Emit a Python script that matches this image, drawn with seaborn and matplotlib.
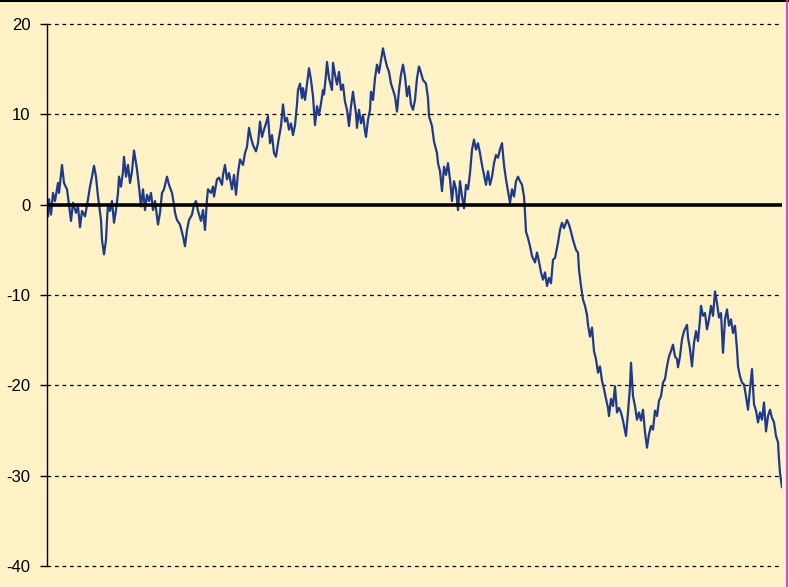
import matplotlib
matplotlib.use("Agg")
import matplotlib.pyplot as plt
from matplotlib.lines import Line2D
import seaborn as sns
import pandas as pd

# step index (time) and value of the random walk
steps = [1, 2, 4, 6, 8, 11, 12, 15, 17, 20, 22, 24, 26, 29, 31, 33, 35, 38, 41, 43,
         45, 47, 49, 51, 52, 54, 55, 57, 59, 60, 61, 63, 65, 67, 69, 71, 72, 74, 76, 77,
         79, 81, 83, 85, 87, 90, 92, 94, 96, 98, 100, 102, 104, 106, 108, 111, 113, 115, 117, 120,
         122, 125, 127, 128, 130, 133, 136, 138, 140, 142, 145, 147, 149, 151, 154, 156, 158, 160, 161, 164,
         166, 167, 170, 172, 175, 176, 178, 180, 182, 185, 187, 189, 191, 193, 196, 198, 200, 202, 204, 206,
         209, 211, 213, 215, 217, 219, 221, 223, 225, 227, 229, 231, 234, 236, 238, 240, 242, 244, 246, 248,
         250, 251, 253, 255, 256, 258, 260, 262, 264, 266, 268, 270, 272, 274, 276, 277, 279, 280, 282, 285,
         286, 288, 290, 292, 294, 296, 298, 300, 302, 304, 306, 307, 309, 310, 312, 314, 316, 318, 319, 321,
         323, 324, 326, 328, 330, 332, 334, 336, 338, 340, 342, 344, 346, 348, 350, 352, 354, 356, 358, 360,
         362, 364, 366, 368, 370, 372, 374, 376, 379, 381, 382, 385, 387, 390, 391, 393, 395, 397, 399, 401,
         403, 405, 407, 409, 411, 413, 415, 417, 419, 421, 423, 425, 427, 429, 431, 433, 435, 437, 439, 441,
         443, 445, 447, 449, 451, 453, 455, 457, 459, 461, 463, 465, 467, 469, 471, 473, 475, 477, 478, 479,
         481, 483, 485, 488, 490, 492, 494, 496, 498, 500, 502, 504, 506, 508, 511, 513, 515, 517, 520, 522,
         524, 526, 529, 531, 532, 534, 536, 538, 540, 541, 543, 545, 547, 549, 551, 553, 555, 557, 559, 561,
         562, 564, 566, 568, 570, 572, 574, 576, 579, 581, 583, 584, 586, 588, 590, 592, 594, 596, 598, 600,
         602, 604, 606, 608, 610, 612, 614, 616, 618, 620, 622, 624, 626, 628, 630, 631, 633, 635, 637, 640,
         641, 643, 645, 647, 649, 651, 653, 654, 656, 658, 660, 662, 664, 666, 668, 670, 672, 674, 676, 678,
         680, 682, 684, 686, 688, 690, 691, 693, 695, 697, 699, 701, 703, 705, 707, 709, 711, 713, 715, 717,
         719, 721, 723, 725, 727, 729, 731, 732, 733, 735]

values = [-1.3, 0.6, -1.1, 1.3, 0.4, 2.4, 1.3, 4.4, 2.4, 1.7, 0.0, -1.8, 0.2, -0.9, -0.2, -2.5, -0.7, -1.3, 0.6, 2.0,
          3.1, 4.3, 3.1, 0.9, 0.0, -1.7, -3.9, -5.5, -3.9, -1.7, 0.0, -0.7, 0.4, -2.0, -0.6, 1.3, 3.1, 2.0, 3.7, 5.3,
          3.1, 4.4, 2.4, 3.7, 6.0, 3.9, 2.0, -0.2, 1.7, -0.6, 1.1, 0.4, 1.3, -0.6, 0.4, -2.2, -0.9, 1.3, 1.7, 3.1,
          2.2, 1.3, 0.0, -0.9, -1.7, -2.2, -3.5, -4.6, -2.8, -1.7, -1.1, 0.0, 0.4, -0.7, -1.8, -0.6, -2.8, 0.6, 1.7, 1.3,
          2.0, 0.9, 2.8, 3.0, 2.2, 3.3, 4.4, 2.8, 3.5, 1.7, 3.3, 1.1, 3.5, 5.0, 4.4, 5.7, 6.4, 8.5, 7.4, 6.6,
          5.9, 6.8, 9.2, 7.5, 8.3, 9.0, 9.8, 6.8, 7.7, 5.7, 5.3, 6.8, 8.7, 11.1, 9.2, 9.6, 8.3, 9.0, 7.7, 8.8,
          11.1, 12.7, 13.4, 11.8, 12.9, 11.6, 13.4, 15.1, 13.8, 12.0, 8.8, 10.9, 9.9, 11.2, 12.7, 12.2, 14.4, 15.8, 14.0, 12.7,
          15.7, 14.4, 13.3, 14.7, 12.7, 13.3, 11.4, 10.5, 8.7, 10.9, 12.5, 11.6, 10.1, 8.5, 10.5, 9.0, 9.9, 8.1, 7.5, 9.4,
          10.5, 12.5, 11.6, 14.0, 15.5, 14.6, 16.0, 17.3, 16.2, 15.3, 14.7, 13.4, 12.7, 12.0, 10.3, 12.7, 14.4, 15.5, 14.2, 12.0,
          13.1, 11.1, 10.5, 11.6, 14.0, 15.3, 14.6, 13.8, 13.4, 11.8, 9.8, 8.7, 7.0, 5.7, 4.6, 3.7, 1.5, 4.2, 3.3, 4.6,
          2.8, 0.4, 2.6, 1.7, -0.6, 2.6, 0.9, -0.4, 2.2, 1.7, 3.5, 6.1, 7.2, 6.1, 6.8, 5.7, 4.4, 3.3, 2.2, 3.7,
          2.2, 3.1, 4.6, 5.5, 5.2, 6.1, 6.8, 4.4, 2.8, 1.5, 0.2, 1.7, 0.9, 2.6, 3.1, 2.6, 2.2, 0.9, -0.9, -3.0,
          -3.7, -4.6, -5.7, -6.4, -5.3, -6.3, -7.5, -8.3, -7.5, -9.0, -8.1, -8.7, -6.1, -5.9, -4.2, -2.8, -2.0, -2.6, -1.7, -2.2,
          -3.0, -3.9, -5.0, -5.3, -7.2, -9.0, -10.5, -11.2, -12.2, -13.3, -14.6, -13.6, -16.2, -17.1, -18.6, -17.9, -19.5, -20.4, -21.5, -22.5,
          -23.4, -21.5, -22.3, -20.1, -23.0, -22.5, -23.0, -23.9, -25.6, -23.0, -20.1, -17.5, -21.2, -22.3, -23.8, -23.0, -23.9, -22.7, -25.2, -26.9,
          -25.4, -24.5, -24.9, -22.8, -23.4, -21.7, -21.2, -19.7, -19.3, -17.9, -16.8, -16.2, -15.5, -16.8, -17.1, -18.0, -16.8, -14.9, -14.0, -13.3,
          -14.7, -16.0, -17.9, -15.3, -14.0, -15.1, -12.7, -11.2, -12.3, -12.0, -13.8, -12.7, -11.2, -12.3, -9.6, -10.9, -12.5, -12.0, -16.4, -12.7,
          -11.6, -13.4, -12.7, -14.2, -13.4, -16.0, -17.9, -19.0, -19.7, -19.9, -21.2, -22.7, -20.4, -18.2, -22.1, -22.8, -24.1, -23.0, -23.8, -21.9,
          -25.1, -23.4, -22.7, -23.6, -24.1, -25.6, -26.3, -28.2, -29.7, -31.3]

y_ticks = [-40, -30, -20, -10, 0, 10, 20]
y_labels = ["-40", "-30", "-20", "-10", "0", "10", "20"]

bg = "#FFF2C6"
line_color = "#1F3A8A"

sns.set_theme(style="white")
plt.rcParams["font.family"] = ["Liberation Sans", "DejaVu Sans"]

fig = plt.figure(figsize=(7.89, 5.87), dpi=100, facecolor=bg)
ax = fig.add_axes([47 / 789, 21 / 587, 735 / 789, 542 / 587])
ax.set_facecolor(bg)

df = pd.DataFrame({"step": steps, "value": values})
sns.lineplot(data=df, x="step", y="value", ax=ax, color=line_color,
             linewidth=1.6, sort=False, estimator=None)

ax.set_xlim(0, 735)
ax.set_ylim(-40, 20)
ax.set_yticks(y_ticks)
ax.set_yticklabels(y_labels, fontsize=12, color="black")
ax.set_xticks([])
ax.set_xlabel("")
ax.set_ylabel("")

for v in y_ticks:
    if v == 0:
        continue
    ax.axhline(v, color="black", linewidth=0.9, linestyle=(0, (3, 3)),
               zorder=0.5, clip_on=False)
ax.axhline(0, color="black", linewidth=2.6, zorder=3)

for side in ["top", "right", "bottom"]:
    ax.spines[side].set_visible(False)
ax.spines["left"].set_color("black")
ax.spines["left"].set_linewidth(1.0)
ax.tick_params(axis="y", which="major", left=True, length=5, width=1,
               color="black", pad=7)

# outer frame: dark top edge, magenta right edge
fig.add_artist(Line2D([0, 1], [0.999, 0.999], transform=fig.transFigure,
                      color="black", linewidth=1.5))
fig.add_artist(Line2D([0.9975, 0.9975], [0, 1], transform=fig.transFigure,
                      color="#E020E0", linewidth=1.2))

fig.savefig("out.png", dpi=100, facecolor=bg)
